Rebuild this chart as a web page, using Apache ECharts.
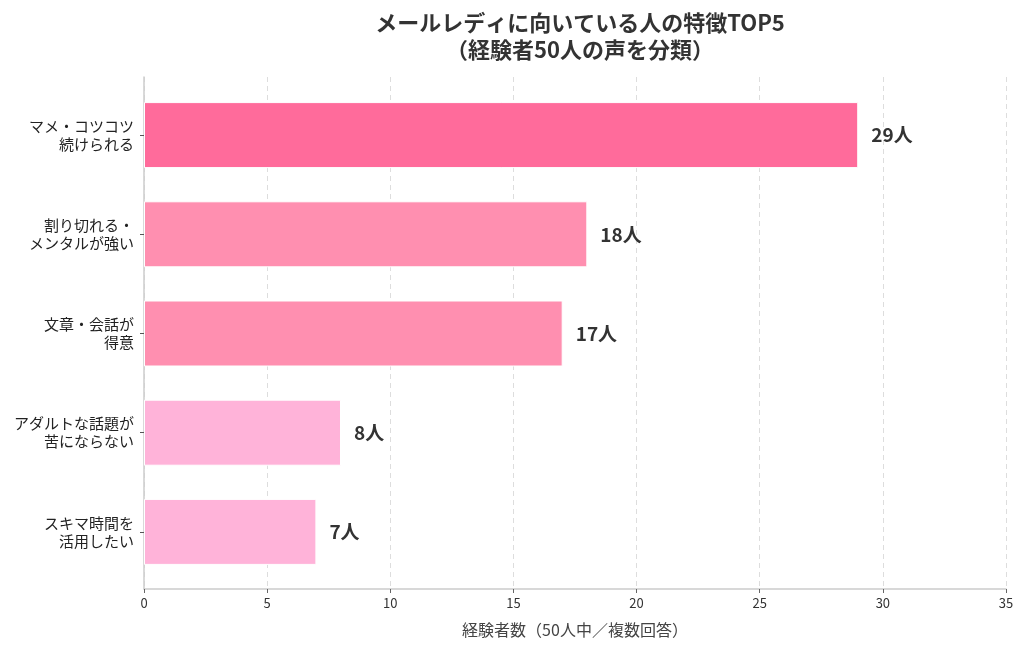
<!DOCTYPE html>
<html>
<head>
<meta charset="utf-8">
<script src="https://cdn.jsdelivr.net/npm/echarts@6/dist/echarts.min.js"></script>
<style>
  html, body { margin: 0; padding: 0; background: #fff; }
  #chart { width: 1024px; height: 645px; }
</style>
</head>
<body>
<div id="chart"></div>
<script>
// データ
var categories = ['マメ・コツコツ\n続けられる', '割り切れる・\nメンタルが強い', '文章・会話が\n得意', 'アダルトな話題が\n苦にならない', 'スキマ時間を\n活用したい'];
var counts = [29, 18, 17, 8, 7];
var barColors = ['#FF6B9B', '#FF8FB0', '#FF8FB0', '#FFB3D9', '#FFB3D9'];
var xTicks = [0, 5, 10, 15, 20, 25, 30, 35];

var fontJa = '"Noto Sans CJK JP", "Noto Sans", sans-serif';

var myChart = echarts.init(document.getElementById('chart'));

var option = {
	backgroundColor: '#fff',
	animation: false,
	title: {
		text: 'メールレディに向いている人の特徴TOP5\n（経験者50人の声を分類）',
		left: 575,
		textAlign: 'center',
		top: 4,
		textStyle: { fontFamily: fontJa, fontSize: 22, fontWeight: 'bold', color: '#333', lineHeight: 27 }
	},
	grid: [
		// 枠・目盛り用
		{ left: 144, right: 18, top: 77, bottom: 56 },
		// 棒グラフ用
		{ left: 144, right: 18, top: 85.5, bottom: 63.5 }
	],
	xAxis: [
		{
			gridIndex: 0, type: 'value', min: 0, max: 35, interval: 5,
			name: '経験者数（50人中／複数回答）', nameLocation: 'middle', nameGap: 33,
			nameTextStyle: { fontFamily: fontJa, fontSize: 16, color: '#444' },
			axisLine: { show: true, lineStyle: { color: '#ccc', width: 1.5 } },
			axisTick: { show: true, length: 4, lineStyle: { color: '#666' } },
			axisLabel: { fontFamily: fontJa, fontSize: 13, color: '#333', margin: 8,
				formatter: function (v) { return xTicks.indexOf(v) >= 0 ? String(v) : ''; } },
			splitLine: { show: true, lineStyle: { color: '#ddd', type: [5, 4], width: 1 } }
		},
		{
			gridIndex: 1, type: 'value', min: 0, max: 35, show: false
		}
	],
	yAxis: [
		{
			gridIndex: 0, type: 'value', min: 0, max: 1,
			axisLine: { show: true, lineStyle: { color: '#ccc', width: 1.5 } },
			axisTick: { show: false }, axisLabel: { show: false }, splitLine: { show: false }
		},
		{
			gridIndex: 1, type: 'category', data: categories, inverse: true,
			axisLine: { show: false },
			axisTick: { show: true, alignWithLabel: true, length: 4, lineStyle: { color: '#555' } },
			axisLabel: { fontFamily: fontJa, fontSize: 15, color: '#222', lineHeight: 18, margin: 10, align: 'right' }
		}
	],
	series: [{
		type: 'bar',
		xAxisIndex: 1,
		yAxisIndex: 1,
		barWidth: 66,
		data: counts.map(function (v, i) {
			return { value: v, itemStyle: { color: barColors[i] } };
		}),
		itemStyle: { borderColor: '#fff', borderWidth: 1 },
		label: {
			show: true, position: 'right', distance: 13,
			formatter: '{c}人',
			fontFamily: fontJa, fontSize: 19, fontWeight: 'bold', color: '#333'
		}
	}]
};

myChart.setOption(option);
</script>
</body>
</html>
